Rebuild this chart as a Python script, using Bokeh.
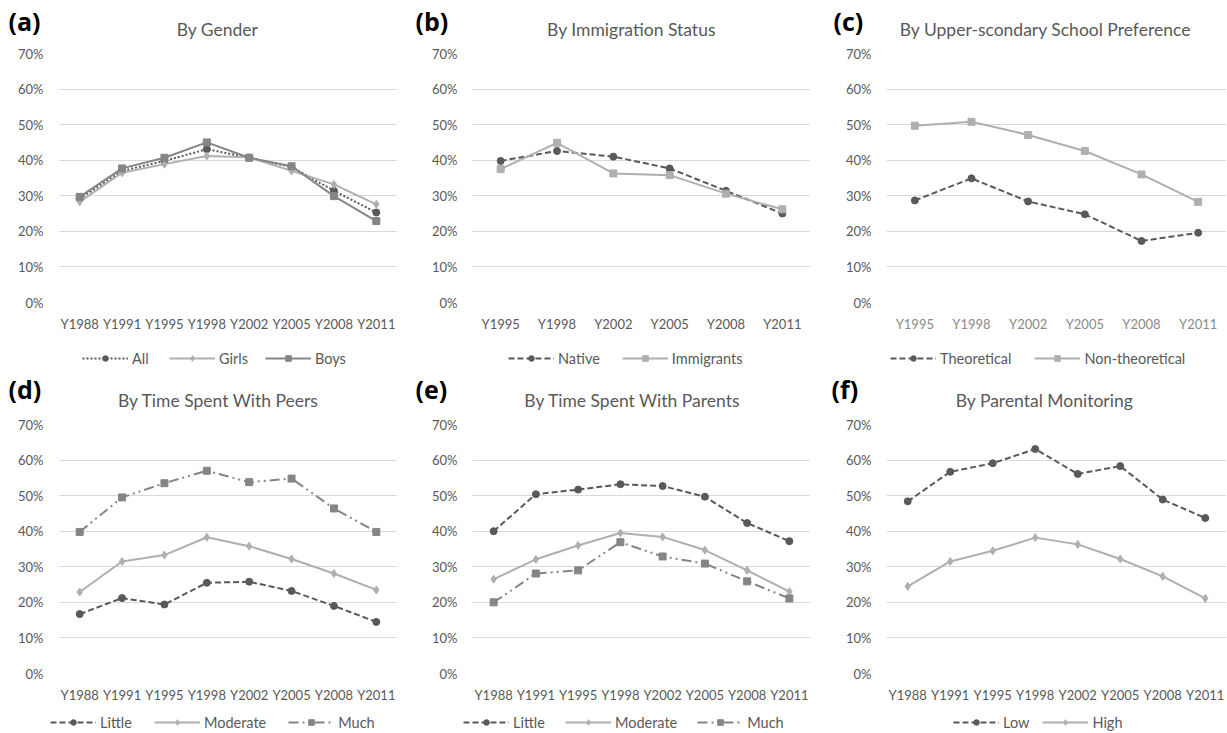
from bokeh.plotting import figure
from bokeh.models import (FactorRange, Range1d, FixedTicker, PrintfTickFormatter,
                          Legend, LegendItem, Label)
from bokeh.layouts import row, column
from bokeh.embed import file_html
from bokeh.resources import INLINE

# ---------------- data ----------------
years8 = ["Y1988", "Y1991", "Y1995", "Y1998", "Y2002", "Y2005", "Y2008", "Y2011"]
years6 = ["Y1995", "Y1998", "Y2002", "Y2005", "Y2008", "Y2011"]

gender_all = [29.2, 37.0, 39.8, 43.1, 40.7, 38.1, 31.4, 25.3]
gender_girls = [28.3, 36.5, 38.9, 41.2, 40.8, 37.0, 33.2, 27.6]
gender_boys = [29.7, 37.7, 40.7, 45.0, 40.7, 38.3, 29.9, 22.9]

immig_native = [39.8, 42.6, 41.0, 37.7, 31.4, 25.0]
immig_immigrants = [37.5, 44.9, 36.3, 35.8, 30.6, 26.2]

school_theoretical = [28.7, 34.9, 28.4, 24.8, 17.3, 19.6]
school_nontheoretical = [49.7, 50.8, 47.1, 42.6, 36.0, 28.3]

peers_little = [16.7, 21.2, 19.4, 25.5, 25.8, 23.2, 19.0, 14.5]
peers_moderate = [22.9, 31.5, 33.3, 38.3, 35.8, 32.2, 28.1, 23.5]
peers_much = [39.8, 49.5, 53.5, 57.0, 53.8, 54.8, 46.4, 39.8]

parents_little = [40.0, 50.4, 51.7, 53.2, 52.7, 49.7, 42.3, 37.2]
parents_moderate = [26.5, 32.1, 36.0, 39.5, 38.4, 34.7, 29.0, 23.0]
parents_much = [20.0, 28.1, 29.0, 36.9, 32.9, 30.9, 25.9, 21.1]

monitor_low = [48.4, 56.7, 59.1, 63.1, 56.1, 58.3, 48.9, 43.7]
monitor_high = [24.5, 31.5, 34.5, 38.2, 36.3, 32.2, 27.3, 21.1]

y_ticks = [0, 10, 20, 30, 40, 50, 60, 70]

letters_row1 = ["(a)", "(b)", "(c)"]
titles_row1 = ["By Gender", "By Immigration Status", "By Upper-scondary School Preference"]
letters_row2 = ["(d)", "(e)", "(f)"]
titles_row2 = ["By Time Spent With Peers", "By Time Spent With Parents", "By Parental Monitoring"]

# ---------------- styles ----------------
DARK = "#595959"
MID = "#858585"
LIGHT = "#afafaf"
TXT = "#595959"
FONT = "Lato"
TOTAL_W = 1226

STY = {
    "dotted": dict(color=DARK, dash="2 2", marker="circle", size=7),
    "dashed": dict(color=DARK, dash="6 3", marker="circle", size=7),
    "light_diamond": dict(color=LIGHT, dash="solid", marker="diamond", size=8),
    "light_square": dict(color=LIGHT, dash="solid", marker="square", size=7),
    "mid_square": dict(color=MID, dash="solid", marker="square", size=7),
    "mid_dashdot": dict(color=MID, dash="10 4 2 4 2 4", marker="square", size=7),
}


def blank(height, y_range=None):
    f = figure(width=TOTAL_W, height=height, x_range=Range1d(0, TOTAL_W),
               y_range=y_range if y_range is not None else Range1d(0, height),
               min_border=0, x_axis_type=None,
               y_axis_type=None, output_backend="svg", toolbar_location=None, tools="")
    f.outline_line_color = None
    f.grid.visible = False
    return f


def header(height, letters, letter_xs, letter_y, titles, title_xs, title_y):
    h = blank(height)
    for t, x in zip(letters, letter_xs):
        h.add_layout(Label(x=x, y=height - letter_y, text=t, text_align="left",
                           text_baseline="middle", text_font="Open Sans",
                           text_font_style="bold", text_font_size="25px",
                           text_color="black"))
    for t, x in zip(titles, title_xs):
        h.add_layout(Label(x=x, y=height - title_y, text=t, text_align="center",
                           text_baseline="middle", text_font=FONT,
                           text_font_size="17.5px", text_color=TXT))
    return h


def footer(height, legends, center_y):
    """legends: list of (left_x, spacing, series). The strip's y range lies far
    away from the data, so its renderers only serve as legend glyphs."""
    f = blank(height, y_range=Range1d(-1000, -1000 + height))
    for left_x, spacing, series in legends:
        items = []
        for name, vals, key in series:
            s = STY[key]
            r1 = f.line(x=vals, y=vals, line_color=s["color"], line_width=2,
                        line_dash=s["dash"])
            r2 = f.scatter(x=vals, y=vals, marker=s["marker"], size=s["size"],
                           fill_color=s["color"], line_color=s["color"])
            items.append(LegendItem(label=name, renderers=[r1, r2]))
        lg = Legend(items=items, orientation="horizontal",
                    location=(left_x, height - center_y - 8.5),
                    padding=0, margin=0, spacing=spacing, glyph_width=46,
                    glyph_height=14, label_height=14, label_standoff=4,
                    label_text_font=FONT, label_text_font_size="14.5px",
                    label_text_color=TXT, border_line_color=None,
                    background_fill_alpha=0)
        f.add_layout(lg)
    return f


def main(cats, series, left, fw, right, fh, xlabel_color=TXT):
    p = figure(x_range=FactorRange(factors=cats), y_range=Range1d(0, 70),
               frame_width=fw, frame_height=fh,
               min_border_left=left, min_border_right=right,
               min_border_top=8, min_border_bottom=33,
               output_backend="svg", toolbar_location=None, tools="")
    p.outline_line_color = None
    p.xgrid.grid_line_color = None
    p.ygrid.grid_line_color = "#d9d9d9"
    p.ygrid.grid_line_width = 1
    p.yaxis.ticker = FixedTicker(ticks=y_ticks)
    p.yaxis.formatter = PrintfTickFormatter(format="%d%%")
    for ax in (p.xaxis[0], p.yaxis[0]):
        ax.axis_line_color = None
        ax.major_tick_line_color = None
        ax.minor_tick_line_color = None
        ax.major_tick_in = 0
        ax.major_tick_out = 0
        ax.major_label_text_font = FONT
        ax.major_label_text_font_size = "13px"
    p.yaxis.major_label_text_color = TXT
    p.xaxis.major_label_text_color = xlabel_color
    p.yaxis.major_label_standoff = 15
    p.xaxis.major_label_standoff = 13
    for name, vals, key in series:
        s = STY[key]
        p.line(cats, vals, line_color=s["color"], line_width=2, line_dash=s["dash"])
        p.scatter(cats, vals, marker=s["marker"], size=s["size"],
                  fill_color=s["color"], line_color=s["color"])
    return p


ser_a = [("All", gender_all, "dotted"), ("Girls", gender_girls, "light_diamond"),
         ("Boys", gender_boys, "mid_square")]
ser_b = [("Native", immig_native, "dashed"), ("Immigrants", immig_immigrants, "light_square")]
ser_c = [("Theoretical", school_theoretical, "dashed"),
         ("Non-theoretical", school_nontheoretical, "light_square")]
ser_d = [("Little", peers_little, "dashed"), ("Moderate", peers_moderate, "light_diamond"),
         ("Much", peers_much, "mid_dashdot")]
ser_e = [("Little", parents_little, "dashed"), ("Moderate", parents_moderate, "light_diamond"),
         ("Much", parents_much, "mid_dashdot")]
ser_f = [("Low", monitor_low, "dashed"), ("High", monitor_high, "light_diamond")]

# row 1 ---------------------------------------------------------------
h1 = header(45, letters_row1, [8, 415, 833], 20, titles_row1, [217, 631, 1045], 29)
pa = main(years8, ser_a, 58, 339, 12, 249)
pb = main(years6, ser_b, 63, 338, 8, 249)
pc = main(years6, ser_c, 68, 340, 0, 249, xlabel_color="#8a8a8a")
f1 = footer(35, [(82, 17, ser_a), (508, 22, ser_b), (890, 23, ser_c)], 23)

# row 2 ---------------------------------------------------------------
h2 = header(46, letters_row2, [8, 415, 831], 18, titles_row2, [218, 632, 1044], 30)
pd_ = main(years8, ser_d, 58, 339, 12, 249)
pe = main(years8, ser_e, 63, 338, 8, 249)
pf = main(years8, ser_f, 68, 340, 0, 249)
f2 = footer(26, [(50, 22, ser_d), (463, 20, ser_e), (953, 13, ser_f)], 16)

layout = column(h1, row(pa, pb, pc), f1, h2, row(pd_, pe, pf), f2)

with open("out.html", "w") as f:
    f.write(file_html(layout, INLINE))
